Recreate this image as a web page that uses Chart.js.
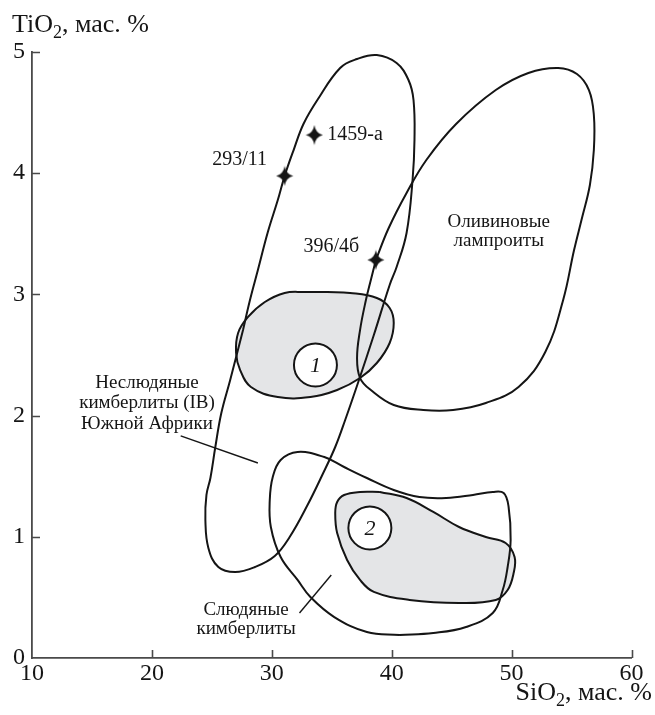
<!DOCTYPE html>
<html>
<head>
<meta charset="utf-8">
<script src="https://cdn.jsdelivr.net/npm/chart.js@4/dist/chart.umd.min.js"></script>
<style>
  html, body { margin: 0; padding: 0; background: #fff; }
  #wrap { width: 655px; height: 715px; }
</style>
</head>
<body>
<div id="wrap"><canvas id="c" width="655" height="715"></canvas></div>
<script>
// Axis ticks
const xTicks = [10, 20, 30, 40, 50, 60];
const yTicks = [0, 1, 2, 3, 4, 5];

// Field outlines, [SiO2, TiO2] pairs (closed contours)
const nonMicaceousIB = [
  [27.60, 2.706], [28.18, 2.954], [28.84, 3.201], [29.67, 3.515], [30.50, 3.779],
  [31.07, 3.977], [31.82, 4.191], [32.64, 4.406], [33.80, 4.604], [35.70, 4.868],
  [37.11, 4.942], [38.76, 4.975], [40.41, 4.909], [41.40, 4.769], [41.82, 4.604],
  [41.90, 4.274], [41.74, 3.944], [41.24, 3.507], [40.41, 3.226], [39.83, 3.078],
  [38.51, 2.665], [37.27, 2.294], [36.12, 1.964], [35.29, 1.741], [34.21, 1.510],
  [32.98, 1.262], [31.49, 0.998], [30.25, 0.842], [28.60, 0.751], [26.94, 0.710],
  [25.54, 0.751], [24.71, 0.908], [24.46, 1.139], [24.55, 1.345], [24.88, 1.485],
  [25.29, 1.741], [25.79, 2.021], [26.53, 2.294]
];
const olivineLamproites = [
  [38.68, 3.284], [39.75, 3.548], [41.24, 3.837], [42.89, 4.109], [45.37, 4.406],
  [48.68, 4.686], [51.40, 4.827], [53.88, 4.868], [55.45, 4.818], [56.45, 4.686],
  [56.86, 4.480], [56.86, 4.191], [56.53, 3.903], [55.87, 3.630], [55.21, 3.366],
  [54.30, 2.954], [52.81, 2.525], [50.58, 2.236], [47.85, 2.104], [45.12, 2.046],
  [42.64, 2.046], [40.17, 2.087], [38.26, 2.211], [37.36, 2.310], [37.11, 2.475],
  [37.36, 2.706], [37.85, 2.954], [38.26, 3.119]
];
const micaceousKimb = [
  [40.66, 0.190], [43.47, 0.206], [46.20, 0.256], [48.43, 0.371], [49.26, 0.561],
  [49.67, 0.751], [49.92, 0.974], [49.75, 1.246], [49.34, 1.361], [48.43, 1.370],
  [46.78, 1.345], [44.55, 1.320], [42.31, 1.328], [40.17, 1.386], [37.93, 1.485],
  [36.03, 1.576], [34.38, 1.658], [32.15, 1.700], [30.74, 1.634], [30.08, 1.493],
  [29.83, 1.304], [29.92, 1.081], [30.74, 0.833], [32.15, 0.644], [33.22, 0.503],
  [35.21, 0.338], [37.93, 0.215]
];
// Shaded fields 1 and 2
const field1 = [
  [34.63, 3.020], [36.53, 3.012], [38.76, 2.970], [39.83, 2.888], [40.17, 2.764],
  [39.83, 2.599], [38.76, 2.434], [37.36, 2.310], [35.45, 2.211], [33.22, 2.153],
  [30.50, 2.153], [28.26, 2.236], [27.36, 2.376], [27.02, 2.517], [27.19, 2.682],
  [28.02, 2.814], [29.42, 2.937], [31.07, 3.012], [32.73, 3.020]
];
const field2 = [
  [39.01, 1.370], [41.24, 1.320], [43.47, 1.205], [45.62, 1.081], [47.85, 0.998],
  [49.50, 0.949], [50.25, 0.833], [50.17, 0.701], [49.67, 0.561], [48.68, 0.479],
  [45.62, 0.454], [41.49, 0.479], [38.51, 0.545], [37.36, 0.644], [36.28, 0.809],
  [35.45, 1.031], [35.29, 1.196], [35.45, 1.287], [36.03, 1.345], [37.36, 1.370]
];

// Samples
const sampleNames = ['293/11', '1459-а', '396/4б'];
const sampleSiO2  = [31.07, 33.55, 38.68];
const sampleTiO2  = [3.977, 4.315, 3.284];

// Field numbers
const fieldNums = ['1', '2'];
const fieldNumX = [33.64, 38.18];
const fieldNumY = [2.418, 1.073];

// Leader lines from captions to fields
const leaderIB   = [[22.40, 1.832], [28.84, 1.609]];
const leaderMica = [[32.31, 0.371], [34.96, 0.685]];

// Captions anchored in data units
const captions = [
  { t: sampleNames[0], x: 27.31, y: 4.109, a: 'center', s: 20 },
  { t: sampleNames[1], x: 34.63, y: 4.315, a: 'left', s: 20 },
  { t: sampleNames[2], x: 34.96, y: 3.391, a: 'center', s: 20 },
  { t: 'Оливиновые', x: 48.93, y: 3.597, a: 'center', s: 19 },
  { t: 'лампроиты', x: 48.93, y: 3.440, a: 'center', s: 19 },
  { t: 'Неслюдяные', x: 19.59, y: 2.269, a: 'center', s: 19 },
  { t: 'кимберлиты (IB)', x: 19.59, y: 2.104, a: 'center', s: 19 },
  { t: 'Южной Африки', x: 19.59, y: 1.931, a: 'center', s: 19 },
  { t: 'Слюдяные', x: 27.85, y: 0.396, a: 'center', s: 19 },
  { t: 'кимберлиты', x: 27.85, y: 0.239, a: 'center', s: 19 }
];

const SERIF = '"Liberation Serif", "Times New Roman", serif';
const INK = '#151515';
const AXIS = '#4a4a4a';

const toPts = arr => arr.map(p => ({ x: p[0], y: p[1] }));
const closed = arr => toPts(arr.concat([arr[0]]));

function makeStar(w, h) {
  const c = document.createElement('canvas');
  c.width = w; c.height = h;
  const g = c.getContext('2d');
  const cx = w / 2, cy = h / 2, rx = w / 2 - 0.5, ry = h / 2 - 0.5, k = 0.16;
  g.beginPath();
  g.moveTo(cx, cy - ry);
  g.quadraticCurveTo(cx + rx * k, cy - ry * k, cx + rx, cy);
  g.quadraticCurveTo(cx + rx * k, cy + ry * k, cx, cy + ry);
  g.quadraticCurveTo(cx - rx * k, cy + ry * k, cx - rx, cy);
  g.quadraticCurveTo(cx - rx * k, cy - ry * k, cx, cy - ry);
  g.closePath();
  g.fillStyle = INK;
  g.fill();
  return c;
}
const starImg = makeStar(18, 21);

const outline = (data) => ({
  data, showLine: true, tension: 0.4, borderColor: INK, borderWidth: 2,
  pointRadius: 0, fill: false
});
const shaded = (data) => ({
  data, showLine: true, tension: 0.4, borderColor: INK, borderWidth: 2,
  pointRadius: 0, fill: 'shape', backgroundColor: '#e4e5e7'
});
const leader = (data) => ({
  data: toPts(data), showLine: true, tension: 0, borderColor: INK, borderWidth: 1.4,
  pointRadius: 0, fill: false
});

// Inward tick marks on both axes
const innerTicks = {
  id: 'innerTicks',
  afterDraw(chart) {
    const { ctx, chartArea: area, scales: { x, y } } = chart;
    ctx.save();
    ctx.strokeStyle = AXIS;
    ctx.lineWidth = 1.6;
    ctx.beginPath();
    yTicks.filter(v => v > 0).forEach(v => {
      const py = Math.round(y.getPixelForValue(v)) + 0.5;
      ctx.moveTo(area.left, py); ctx.lineTo(area.left + 8, py);
    });
    xTicks.filter(v => v > 10).forEach(v => {
      const px = Math.round(x.getPixelForValue(v)) + 0.5;
      ctx.moveTo(px, area.bottom); ctx.lineTo(px, area.bottom - 8);
    });
    ctx.stroke();
    ctx.restore();
  }
};

// Axis title with a subscript digit
function drawSubTitle(ctx, parts, x, y, align) {
  const big = '26px ' + SERIF, small = '18px ' + SERIF;
  ctx.font = big; const w1 = ctx.measureText(parts[0]).width;
  ctx.font = small; const w2 = ctx.measureText(parts[1]).width;
  ctx.font = big; const w3 = ctx.measureText(parts[2]).width;
  const x0 = align === 'right' ? x - (w1 + w2 + w3) : x;
  ctx.textAlign = 'left';
  ctx.textBaseline = 'alphabetic';
  ctx.font = big; ctx.fillText(parts[0], x0, y);
  ctx.font = small; ctx.fillText(parts[1], x0 + w1, y + 6);
  ctx.font = big; ctx.fillText(parts[2], x0 + w1 + w2, y);
}

// Captions, field numbers and axis titles
const texts = {
  id: 'texts',
  afterDraw(chart) {
    const { ctx, scales: { x, y } } = chart;
    ctx.save();
    ctx.fillStyle = INK;
    ctx.textBaseline = 'middle';
    captions.forEach(c => {
      ctx.font = c.s + 'px ' + SERIF;
      ctx.textAlign = c.a;
      ctx.fillText(c.t, x.getPixelForValue(c.x), y.getPixelForValue(c.y));
    });
    ctx.font = 'italic 22px ' + SERIF;
    ctx.textAlign = 'center';
    fieldNums.forEach((n, i) => {
      ctx.fillText(n, x.getPixelForValue(fieldNumX[i]), y.getPixelForValue(fieldNumY[i]) + 1);
    });
    drawSubTitle(ctx, ['TiO', '2', ', мас. %'], 12, 32, 'left');
    drawSubTitle(ctx, ['SiO', '2', ', мас. %'], 652, 700, 'right');
    ctx.restore();
  }
};

new Chart(document.getElementById('c'), {
  type: 'scatter',
  data: {
    datasets: [
      shaded(closed(field1)),
      shaded(closed(field2)),
      outline(closed(nonMicaceousIB)),
      outline(closed(olivineLamproites)),
      outline(closed(micaceousKimb)),
      leader(leaderIB),
      leader(leaderMica),
      {
        data: fieldNumX.map((v, i) => ({ x: v, y: fieldNumY[i] })),
        pointStyle: 'circle', pointRadius: 21.5, pointBackgroundColor: '#fff',
        pointBorderColor: INK, pointBorderWidth: 2, showLine: false
      },
      {
        data: sampleSiO2.map((v, i) => ({ x: v, y: sampleTiO2[i] })),
        pointStyle: starImg, pointRadius: 10, showLine: false
      }
    ]
  },
  options: {
    responsive: false,
    animation: false,
    events: [],
    layout: { padding: { top: 52, right: 18, left: 0, bottom: 0 } },
    plugins: {
      legend: { display: false },
      tooltip: { enabled: false },
      filler: { drawTime: 'beforeDatasetsDraw' }
    },
    scales: {
      x: {
        type: 'linear', min: 10, max: 60,
        afterFit: s => { s.height = 57; },
        afterBuildTicks: s => { s.ticks = xTicks.map(v => ({ value: v })); },
        grid: { display: false, drawTicks: false },
        border: { display: true, color: AXIS, width: 1.8 },
        ticks: { font: { family: SERIF, size: 24 }, color: INK, padding: 1, maxRotation: 0, autoSkip: false }
      },
      y: {
        type: 'linear', min: 0, max: 5,
        afterFit: s => { s.width = 32; },
        afterBuildTicks: s => { s.ticks = yTicks.map(v => ({ value: v })); },
        grid: { display: false, drawTicks: false },
        border: { display: true, color: AXIS, width: 1.8 },
        ticks: { font: { family: SERIF, size: 24 }, color: INK, padding: 7, autoSkip: false }
      }
    }
  },
  plugins: [innerTicks, texts]
});
</script>
</body>
</html>
